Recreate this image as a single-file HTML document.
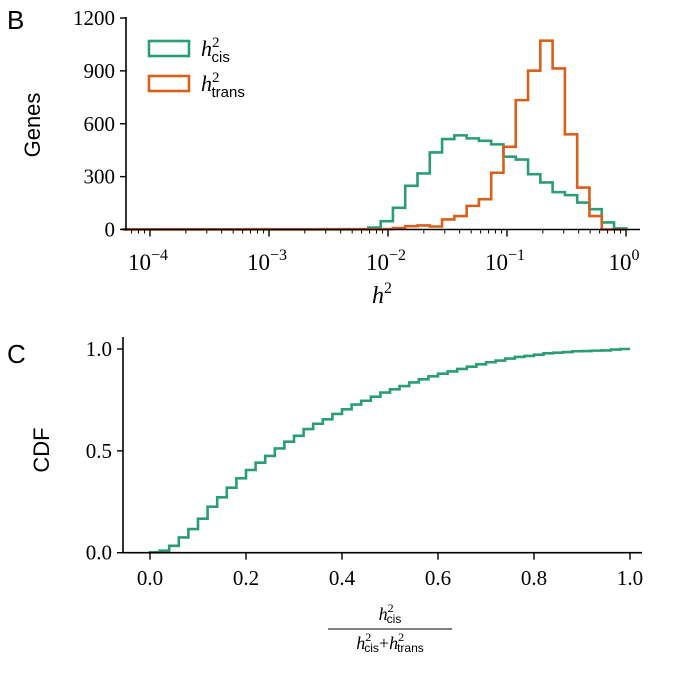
<!DOCTYPE html>
<html><head><meta charset="utf-8"><style>
body{margin:0;background:#fff;}
svg text{font-family:"Liberation Serif",serif;fill:#000;}
.sans{font-family:"Liberation Sans",sans-serif;}
</style></head><body>
<svg id="fig" width="681" height="669" viewBox="0 0 681 669" xmlns="http://www.w3.org/2000/svg">
<g id="panelB"></g>
<g id="panelC"></g>
</svg>
<script>
// ---- Panel B data ----
const binStartLog = -4.2294;
const binWidthLog = 0.10322;
const cisCounts = [0,0,0,0,0,0,0,0,0,0,0,0,0,0,0,0,0,0,0,1,11,47,123,248,318,437,513,534,517,503,483,413,397,314,267,212,195,153,115,40,6];
const transCounts = [1,1,1,1,1,1,1,1,1,1,2,2,1,1,1,1,2,2,2,2,2,2,8,19,23,17,57,76,134,172,322,469,734,901,1071,914,540,238,76,0,0];
const bYTicks = [0,300,600,900,1200];
const bXTickExps = [-4,-3,-2,-1,0];
// ---- Panel C data ----
const cdfValues = [0.002,0.01,0.034,0.075,0.116,0.167,0.226,0.272,0.319,0.365,0.406,0.442,0.475,0.512,0.545,0.574,0.607,0.633,0.655,0.681,0.704,0.727,0.746,0.766,0.786,0.802,0.818,0.836,0.851,0.866,0.879,0.890,0.902,0.913,0.925,0.935,0.943,0.953,0.961,0.966,0.972,0.979,0.982,0.985,0.989,0.990,0.992,0.993,0.997,1.0];
const cXTicks = [0,0.2,0.4,0.6,0.8,1.0];
const cYTicks = [0,0.5,1.0];

const NS="http://www.w3.org/2000/svg";
function mk(tag,attrs,parent){const e=document.createElementNS(NS,tag);for(const k in attrs)e.setAttribute(k,attrs[k]);parent.appendChild(e);return e;}
const B=document.getElementById('panelB'), C=document.getElementById('panelC');

const bx = l => 150 + (l + 4) * 119;
const by = v => 229.5 - v / 1200 * 211.5;
function stepPath(counts){
  let d='';
  for(let i=0;i<counts.length;i++){
    const x0=bx(binStartLog+i*binWidthLog), x1=bx(binStartLog+(i+1)*binWidthLog), y=by(counts[i]);
    d += (i===0?'M'+x0+','+by(0)+' L'+x0+','+y:' L'+x0+','+y)+' L'+x1+','+y;
  }
  const xe=bx(binStartLog+counts.length*binWidthLog);
  return d+' L'+xe+','+by(0);
}
let p=mk('path',{d:stepPath(cisCounts),fill:'none',stroke:'#2a9d78','stroke-width':2.6},B);


p=mk('path',{d:stepPath(transCounts),fill:'none',stroke:'#d95f1c','stroke-width':2.6},B);


mk('line',{x1:126,y1:17,x2:126,y2:230.5,stroke:'#000','stroke-width':1.6},B);
mk('line',{x1:125,y1:229.5,x2:640,y2:229.5,stroke:'#000','stroke-width':1.6},B);
bYTicks.forEach(v=>{
  mk('line',{x1:120,y1:by(v),x2:126,y2:by(v),stroke:'#000','stroke-width':1.4},B);
  const t=mk('text',{x:115,y:by(v)+7,'text-anchor':'end','font-size':21},B);t.textContent=v;
  
  
});
for(let e=-5;e<=0;e++){
  for(let m=1;m<10;m++){
    const l=e+Math.log10(m); const x=bx(l);
    if(x<127||x>640) continue;
    mk('line',{x1:x,y1:229.5,x2:x,y2:229.5+(m===1?7:4),stroke:'#000','stroke-width':m===1?1.4:1},B);
  }
}
bXTickExps.forEach(e=>{
  const t=mk('text',{x:bx(e)-2,y:270,'text-anchor':'middle','font-size':23},B);
  t.innerHTML='10<tspan dy="-10" font-size="16">'+(e===0?'0':'−'+(-e))+'</tspan>';
  
  
});
let t=mk('text',{x:382,y:303,'text-anchor':'middle','font-size':24,'font-style':'italic'},B);
t.innerHTML='h<tspan dy="-10" font-size="16" font-style="normal">2</tspan>';

t=mk('text',{x:0,y:0,'font-size':22,'class':'sans',transform:'translate(40,125) rotate(-90)','text-anchor':'middle'},B);
t.textContent='Genes';
t=mk('text',{x:7,y:29,'font-size':26,'class':'sans'},B);t.textContent='B';

let r=mk('rect',{x:149,y:41,width:40,height:15,fill:'none',stroke:'#2a9d78','stroke-width':2.6},B);

r=mk('rect',{x:149,y:76,width:40,height:15,fill:'none',stroke:'#d95f1c','stroke-width':2.6},B);

t=mk('text',{x:201,y:56,'font-size':22,'font-style':'italic'},B);
t.innerHTML='h<tspan dy="-9" font-size="15" font-style="normal">2</tspan><tspan dx="-8" dy="15" font-size="15" font-style="normal" class="sans">cis</tspan>';

t=mk('text',{x:201,y:91,'font-size':22,'font-style':'italic'},B);
t.innerHTML='h<tspan dy="-9" font-size="15" font-style="normal">2</tspan><tspan dx="-8" dy="15" font-size="15" font-style="normal" class="sans">trans</tspan>';


const cx = v => 150 + v * 480;
const cy = v => 552.7 - v * 203.7;
let d='M'+cx(0)+','+cy(0);
cdfValues.forEach((v,i)=>{d+=' L'+cx(i*0.02)+','+cy(v)+' L'+cx((i+1)*0.02)+','+cy(v);});
p=mk('path',{d:d,fill:'none',stroke:'#2a9d78','stroke-width':2.6},C);


mk('line',{x1:123,y1:337,x2:123,y2:553.5,stroke:'#000','stroke-width':1.6},C);
mk('line',{x1:122,y1:552.7,x2:642,y2:552.7,stroke:'#000','stroke-width':1.6},C);
cYTicks.forEach(v=>{
  mk('line',{x1:117,y1:cy(v),x2:123,y2:cy(v),stroke:'#000','stroke-width':1.4},C);
  const t=mk('text',{x:112,y:cy(v)+7,'text-anchor':'end','font-size':21},C);t.textContent=v.toFixed(1);
  
  
});
cXTicks.forEach(v=>{
  mk('line',{x1:cx(v),y1:552.7,x2:cx(v),y2:559.7,stroke:'#000','stroke-width':1.4},C);
  const t=mk('text',{x:cx(v),y:585,'text-anchor':'middle','font-size':21},C);t.textContent=v.toFixed(1);
  
  
});
t=mk('text',{x:0,y:0,'font-size':22,'class':'sans',transform:'translate(49,450) rotate(-90)','text-anchor':'middle'},C);
t.textContent='CDF';
t=mk('text',{x:7,y:363,'font-size':26,'class':'sans'},C);t.textContent='C';

t=mk('text',{x:390,y:620,'text-anchor':'middle','font-size':18,'font-style':'italic'},C);
t.innerHTML='h<tspan dy="-8" font-size="12" font-style="normal">2</tspan><tspan dx="-7" dy="11" font-size="12" font-style="normal" class="sans">cis</tspan>';

mk('line',{x1:328,y1:629,x2:452,y2:629,stroke:'#000','stroke-width':1},C);
t=mk('text',{x:390,y:649,'text-anchor':'middle','font-size':18,'font-style':'italic'},C);
t.innerHTML='h<tspan dy="-8" font-size="12" font-style="normal">2</tspan><tspan dx="-7" dy="11" font-size="12" font-style="normal" class="sans">cis</tspan><tspan dy="-3" font-style="normal">+</tspan>h<tspan dy="-8" font-size="12" font-style="normal">2</tspan><tspan dx="-7" dy="11" font-size="12" font-style="normal" class="sans">trans</tspan>';

</script>
</body></html>
